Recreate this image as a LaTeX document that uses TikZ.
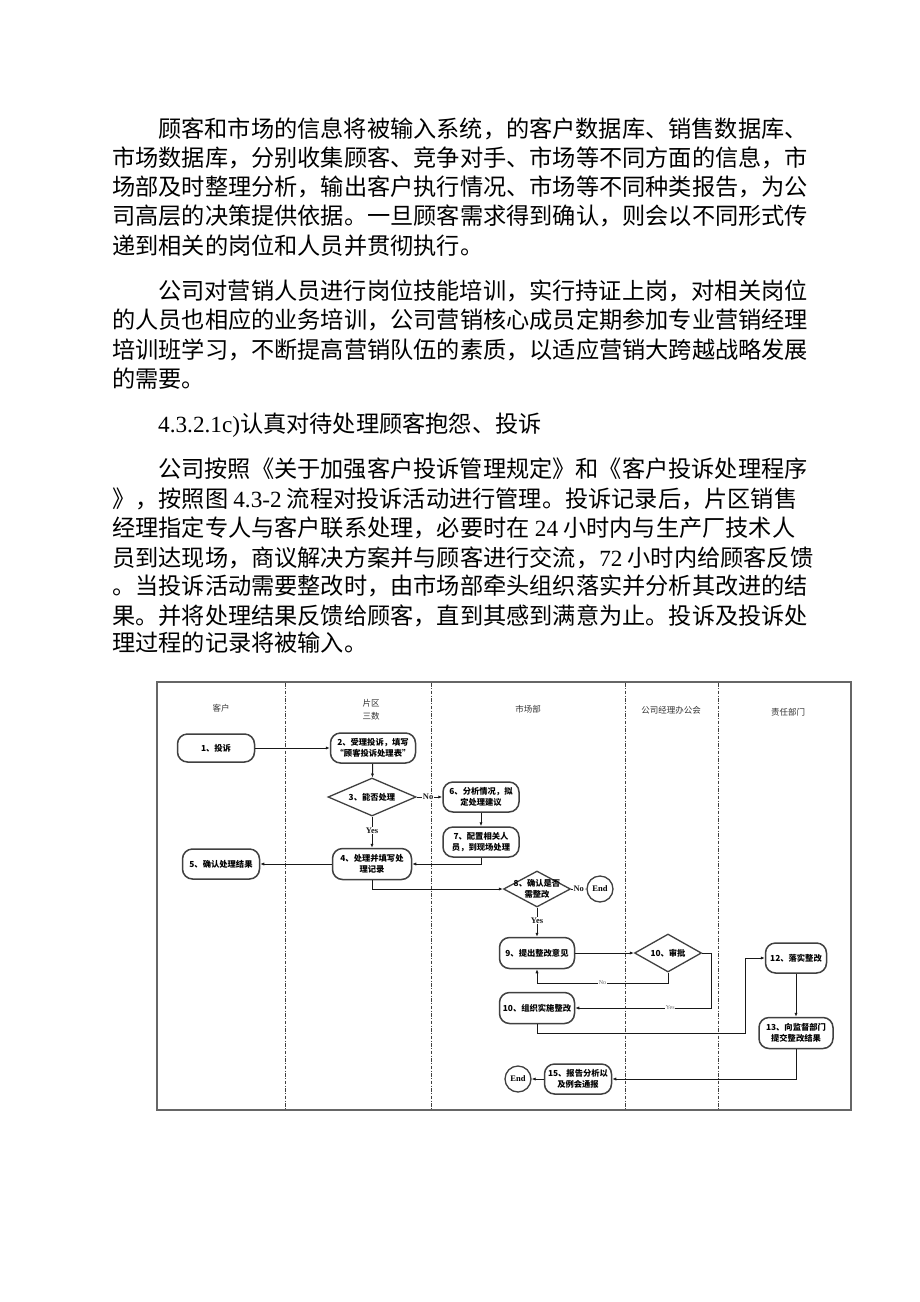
\documentclass[tikz,border=0pt]{standalone}
\usepackage{fontspec}
\setmainfont{Liberation Serif}
\newfontfamily\cjk{Noto Sans CJK SC}
\usetikzlibrary{shapes.geometric,arrows.meta}
\newcommand{\lat}[1]{{\rmfamily #1}}
\tikzset{
  body/.style={anchor=base west, inner sep=0pt, font=\cjk\fontsize{23.2}{29}\selectfont},
  lane/.style={draw=black!75, line width=0.8pt, dash pattern=on 3.5pt off 1.5pt on 1pt off 1.5pt},
  head/.style={font=\cjk\fontsize{8.5}{13.5}\selectfont, align=center, text=black!80},
  proc/.style={draw=black!75, line width=1.5pt, rounded corners=10pt, fill=white,
    align=center, inner sep=1pt, font=\cjk\bfseries\fontsize{8.3}{11.5}\selectfont},
  decide/.style={diamond, draw=black!75, line width=1.3pt, fill=white, inner sep=0pt},
  dtext/.style={align=center, inner sep=0pt, font=\cjk\bfseries\fontsize{8.3}{11.5}\selectfont},
  stop/.style={circle, draw=black!75, line width=1.3pt, fill=white, minimum size=26pt,
    inner sep=0pt, font=\rmfamily\bfseries\fontsize{8.5}{9}\selectfont},
  yn/.style={font=\rmfamily\bfseries\fontsize{8.5}{9}\selectfont, fill=white, inner sep=0.6pt},
  ynsmall/.style={font=\rmfamily\fontsize{6}{7}\selectfont, text=black!60, fill=white, inner sep=0.5pt},
  flow/.style={-{Latex[length=4pt,width=3.2pt]}, line width=1pt, black!90}
}
\begin{document}
\begin{tikzpicture}[x=1pt,y=-1pt]
  \useasboundingbox[fill=white] (0,0) rectangle (920,1302);

  % text above the chart
  \node[body] (pa1) at (158,137) {顾客和市场的信息将被输入系统，的客户数据库、销售数据库、};
  \node[body] (pa2) at (112,166) {市场数据库，分别收集顾客、竞争对手、市场等不同方面的信息，市};
  \node[body] (pa3) at (112,195) {场部及时整理分析，输出客户执行情况、市场等不同种类报告，为公};
  \node[body] (pa4) at (112,224) {司高层的决策提供依据。一旦顾客需求得到确认，则会以不同形式传};
  \node[body] (pa5) at (112,254) {递到相关的岗位和人员并贯彻执行。};

  \node[body] (pb1) at (158,299) {公司对营销人员进行岗位技能培训，实行持证上岗，对相关岗位};
  \node[body] (pb2) at (112,328) {的人员也相应的业务培训，公司营销核心成员定期参加专业营销经理};
  \node[body] (pb3) at (112,358) {培训班学习，不断提高营销队伍的素质，以适应营销大跨越战略发展};
  \node[body] (pb4) at (112,387) {的需要。};

  \node[body] (hd) at (158,432) {\lat{4.3.2.1c)}认真对待处理顾客抱怨、投诉};

  \node[body] (pc1) at (158,477) {公司按照《关于加强客户投诉管理规定》和《客户投诉处理程序};
  \node[body] (pc2) at (112,507) {》，按照图 \lat{4.3-2} 流程对投诉活动进行管理。投诉记录后，片区销售};
  \node[body] (pc3) at (112,536) {经理指定专人与客户联系处理，必要时在 \lat{24} 小时内与生产厂技术人};
  \node[body] (pc4) at (112,566) {员到达现场，商议解决方案并与顾客进行交流，\lat{72} 小时内给顾客反馈};
  \node[body] (pc5) at (112,594) {。当投诉活动需要整改时，由市场部牵头组织落实并分析其改进的结};
  \node[body] (pc6) at (112,624) {果。并将处理结果反馈给顾客，直到其感到满意为止。投诉及投诉处};
  \node[body] (pc7) at (112,651) {理过程的记录将被输入。};

  % swim lanes
  \draw[draw=black!60, line width=1.6pt] (157,682) rectangle (851,1110);
  \foreach \x in {285,431,625,718}
    \draw[lane] (\x,683) -- (\x,1109);
  \node[head] (h1) at (221,708) {客户};
  \node[head] (h2) at (371,710) {片区\\三数};
  \node[head] (h3) at (528,709) {市场部};
  \node[head] (h4) at (671,710) {公司经理办公会};
  \node[head] (h5) at (788,712) {责任部门};

  % steps
  \node[proc, minimum width=77pt, minimum height=28pt] (s1) at (216,748) {1、投诉};
  \node[proc, minimum width=85pt, minimum height=30pt] (s2) at (373,748) {2、受理投诉，填写\\“顾客投诉处理表”};
  \node[decide, minimum width=88pt, minimum height=38pt,
    label={[dtext]center:3、能否处理}] (s3) at (372,797) {};
  \node[proc, minimum width=79pt, minimum height=31pt] (s4) at (372,864) {4、处理并填写处\\理记录};
  \node[proc, minimum width=77pt, minimum height=30pt] (s5) at (221,864) {5、确认处理结果};
  \node[proc, minimum width=76pt, minimum height=30pt] (s6) at (481,797) {6、分析情况，拟\\定处理建议};
  \node[proc, minimum width=76pt, minimum height=30pt] (s7) at (481,842) {7、配置相关人\\员，到现场处理};
  \node[decide, minimum width=67pt, minimum height=36pt,
    label={[dtext]center:8、确认是否\\需整改}] (s8) at (537,889) {};
  \node[stop] (end1) at (600,889) {End};
  \node[proc, minimum width=75pt, minimum height=31pt] (s9) at (537,953) {9、提出整改意见};
  \node[decide, minimum width=67pt, minimum height=38pt,
    label={[dtext]center:10、审批}] (s10) at (668,953) {};
  \node[proc, minimum width=75pt, minimum height=31pt] (s10b) at (537,1008) {10、组织实施整改};
  \node[proc, minimum width=61pt, minimum height=30pt] (s12) at (796,958) {12、落实整改};
  \node[proc, minimum width=74pt, minimum height=31pt] (s13) at (796,1033) {13、向监督部门\\提交整改结果};
  \node[proc, minimum width=67pt, minimum height=30pt] (s15) at (578,1079) {15、报告分析以\\及例会通报};
  \node[stop] (end2) at (518,1079) {End};

  \coordinate (cno) at (668,983);
  \coordinate (cyes) at (711,1008);
  \coordinate (cup) at (745,1033);

  \begin{scope}[flow]
    \draw (s1) to (s2);
    \draw (s2) to (s3);
    \draw (s3) to node[yn, pos=0.45] {No} (s6);
    \draw (s3) to node[yn, pos=0.45] {Yes} (s4);
    \draw (s6) to (s7);
    \draw (s7.south) |- (s4.east);
    \draw (s4) to (s5);
    \draw (s4.south) |- (s8.west);
    \draw (s8) to node[yn, pos=0.5] {No} (end1);
    \draw (s8) to node[yn, pos=0.45] {Yes} (s9);
    \draw (s9) to (s10);
    \draw (s10.south) -- (cno) -| node[ynsmall, pos=0.25] {No} (s9.south);
    \draw (s10.east) -| (cyes) -- node[ynsmall, pos=0.3] {Yes} (s10b.east);
    \draw (s10b.south) |- (cup) |- (s12.west);
    \draw (s12) to (s13);
    \draw (s13.south) |- (s15.east);
    \draw (s15) to (end2);
  \end{scope}
\end{tikzpicture}
\end{document}
